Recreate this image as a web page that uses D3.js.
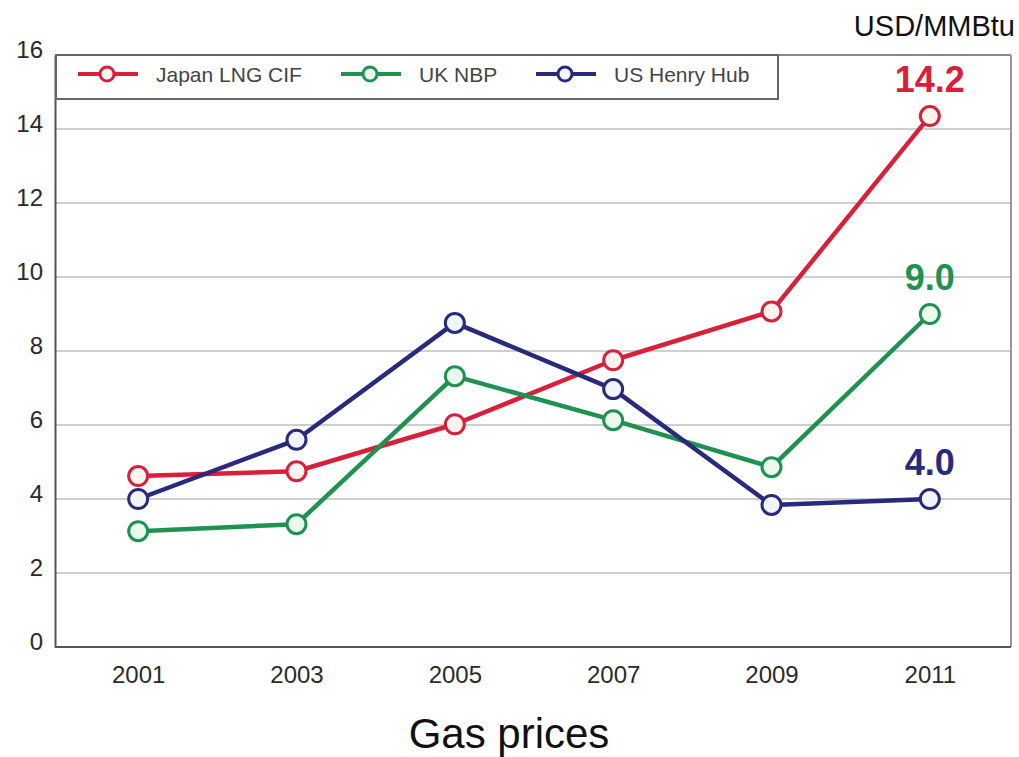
<!DOCTYPE html>
<html>
<head>
<meta charset="utf-8">
<script src="https://cdn.jsdelivr.net/npm/d3@7"></script>
<style>
  body { margin: 0; background: #fff; }
  text { font-family: "Liberation Sans", Arial, sans-serif; }
</style>
</head>
<body>
<div id="chart"></div>
<script>
var years = ["2001", "2003", "2005", "2007", "2009", "2011"];
var japanLng = [4.62, 4.75, 6.02, 7.75, 9.07, 14.35];
var ukNbp = [3.13, 3.32, 7.32, 6.13, 4.86, 9.0];
var usHenryHub = [4.0, 5.6, 8.76, 6.97, 3.84, 4.0];
var seriesNames = ["Japan LNG CIF", "UK NBP", "US Henry Hub"];
var endLabels = ["14.2", "9.0", "4.0"];
var yTicks = [0, 2, 4, 6, 8, 10, 12, 14, 16];

var colors = ["#d9203b", "#1f9150", "#2a2a7c"];
var fills = ["#fff4ee", "#eafaee", "#f2f4ff"];
var allSeries = [japanLng, ukNbp, usHenryHub];

var width = 1019, height = 757;
var plotLeft = 55, plotRight = 1011, plotTop = 55, plotBottom = 647;

var svg = d3.select("#chart").append("svg")
  .attr("width", width)
  .attr("height", height);

var x = d3.scalePoint()
  .domain(years)
  .range([59, 1009])
  .padding(0.5);

var y = d3.scaleLinear()
  .domain([0, 16])
  .range([plotBottom, plotTop]);

// grid
svg.selectAll("line.grid")
  .data(yTicks.filter(function(d){ return d > 0; }))
  .enter().append("line")
    .attr("class", "grid")
    .attr("x1", plotLeft)
    .attr("x2", plotRight)
    .attr("y1", function(d){ return y(d); })
    .attr("y2", function(d){ return y(d); })
    .attr("stroke", function(d){ return d == 16 ? "#888" : "#cfcfcf"; })
    .attr("stroke-width", 2);

// right border
svg.append("line")
  .attr("x1", plotRight).attr("x2", plotRight)
  .attr("y1", plotTop).attr("y2", plotBottom)
  .attr("stroke", "#999")
  .attr("stroke-width", 2);

// axes
var yAxis = svg.append("g")
  .attr("transform", "translate(" + plotLeft + ",0)")
  .call(d3.axisLeft(y).tickValues(yTicks).tickSize(0).tickPadding(12));

var xAxis = svg.append("g")
  .attr("transform", "translate(0," + plotBottom + ")")
  .call(d3.axisBottom(x).tickSize(0).tickPadding(19));

xAxis.select(".domain").attr("d", "M" + plotLeft + ",0H" + plotRight);

[yAxis, xAxis].forEach(function(g){
  g.select(".domain").attr("stroke", "#555").attr("stroke-width", 2);
  g.selectAll("text")
    .attr("font-size", 24)
    .attr("fill", "#2a2a2a")
    .style("font-family", "Liberation Sans, Arial, sans-serif");
});
yAxis.selectAll("text").attr("dy", "0.1em");

// lines
var line = d3.line()
  .x(function(d, i){ return x(years[i]); })
  .y(function(d){ return y(d); });

allSeries.forEach(function(values, s){
  svg.append("path")
    .datum(values)
    .attr("d", line)
    .attr("fill", "none")
    .attr("stroke", colors[s])
    .attr("stroke-width", 4.5)
    .attr("stroke-linejoin", "round");
});

allSeries.forEach(function(values, s){
  svg.selectAll("circle.s" + s)
    .data(values)
    .enter().append("circle")
      .attr("class", "s" + s)
      .attr("cx", function(d, i){ return x(years[i]); })
      .attr("cy", function(d){ return y(d); })
      .attr("r", 9.5)
      .attr("fill", fills[s])
      .attr("stroke", colors[s])
      .attr("stroke-width", 3);

  var last = values[values.length - 1];
  svg.append("text")
    .attr("x", x(years[years.length - 1]))
    .attr("y", y(last) - 24)
    .attr("text-anchor", "middle")
    .attr("font-size", 36)
    .attr("font-weight", "bold")
    .attr("fill", colors[s])
    .text(endLabels[s]);
});

// legend
var legend = svg.append("g");
legend.append("rect")
  .attr("x", plotLeft + 1)
  .attr("y", plotTop)
  .attr("width", 722)
  .attr("height", 44)
  .attr("fill", "#fff")
  .attr("stroke", "#666")
  .attr("stroke-width", 2);

var legendX = [78, 341, 536];
seriesNames.forEach(function(name, s){
  var lx = legendX[s];
  legend.append("line")
    .attr("x1", lx).attr("x2", lx + 60)
    .attr("y1", 74).attr("y2", 74)
    .attr("stroke", colors[s])
    .attr("stroke-width", 4);
  legend.append("circle")
    .attr("cx", lx + 29).attr("cy", 74)
    .attr("r", 7)
    .attr("fill", fills[s])
    .attr("stroke", colors[s])
    .attr("stroke-width", 3);
  legend.append("text")
    .attr("x", lx + 78)
    .attr("y", 82)
    .attr("font-size", 21)
    .attr("fill", "#444")
    .text(name);
});

// unit and title
svg.append("text")
  .attr("x", 1015)
  .attr("y", 36)
  .attr("text-anchor", "end")
  .attr("font-size", 29)
  .attr("fill", "#111")
  .text("USD/MMBtu");

svg.append("text")
  .attr("x", 509)
  .attr("y", 748)
  .attr("text-anchor", "middle")
  .attr("font-size", 42)
  .attr("fill", "#111")
  .text("Gas prices");
</script>
</body>
</html>
